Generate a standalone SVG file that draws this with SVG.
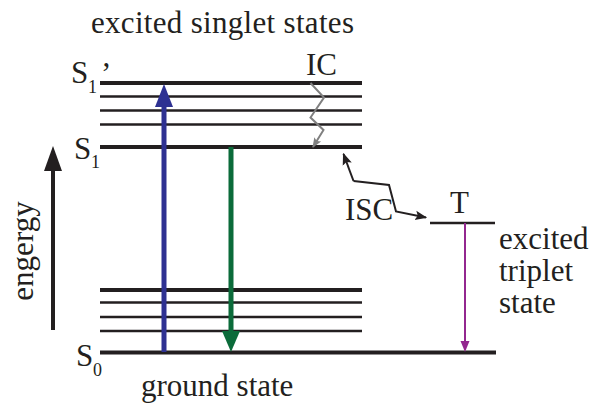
<svg xmlns="http://www.w3.org/2000/svg" width="592" height="406" viewBox="0 0 592 406">
<style>
text{font-family:"Liberation Serif","Times New Roman",serif;fill:#231f20;font-size:31px}
.sub{font-size:18px}
.thick{stroke:#231f20;stroke-width:4;fill:none}
.thin{stroke:#231f20;stroke-width:2.4;fill:none}
</style>
<defs>
<marker id="gh" viewBox="0 0 10 10" refX="9" refY="5" markerWidth="10" markerHeight="10" markerUnits="userSpaceOnUse" orient="auto"><path d="M0,1 L10,5 L0,9 L2,5 Z" fill="#808080"/></marker>
<marker id="bh" viewBox="0 0 10 10" refX="9" refY="5" markerWidth="12" markerHeight="12" markerUnits="userSpaceOnUse" orient="auto"><path d="M0,1 L10,5 L0,9 L2,5 Z" fill="#231f20"/></marker>
</defs>
<g id="title"><text x="91" y="33" textLength="263">excited singlet states</text></g>
<g id="S1p">
<line class="thick" x1="100" y1="83" x2="362" y2="83"/>
<line class="thin" x1="100" y1="96.5" x2="362" y2="96.5"/>
<line class="thin" x1="100" y1="110.5" x2="362" y2="110.5"/>
<line class="thin" x1="100" y1="124.5" x2="362" y2="124.5"/>
<text x="71" y="83">S</text><text class="sub" x="88" y="93">1</text><text x="101" y="84">’</text>
</g>
<g id="S1">
<line class="thick" x1="100" y1="147" x2="362" y2="147"/>
<text x="74" y="159">S</text><text class="sub" x="91" y="168">1</text>
</g>
<g id="S0">
<line class="thick" x1="100" y1="290" x2="362" y2="290"/>
<line class="thin" x1="100" y1="302.5" x2="362" y2="302.5"/>
<line class="thin" x1="100" y1="317" x2="362" y2="317"/>
<line class="thin" x1="100" y1="331" x2="362" y2="331"/>
<line class="thick" x1="100" y1="352.5" x2="496" y2="352.5"/>
<text x="76" y="366">S</text><text class="sub" x="93" y="376">0</text>
</g>
<g id="ground"><text x="141" y="396">ground state</text></g>
<g id="T">
<line class="thin" x1="430" y1="223" x2="495" y2="223"/>
<text x="450" y="213">T</text>
</g>
<g id="triplet">
<text x="499" y="249">excited</text>
<text x="499" y="281">triplet</text>
<text x="499" y="313">state</text>
</g>
<g id="energy">
<text transform="translate(33,251) rotate(-90)" text-anchor="middle">engergy</text>
</g>
<g id="labels">
<text x="306" y="75">IC</text>
<text x="345" y="220">ISC</text>
</g>
<g id="connectors">
<line x1="53" y1="330" x2="53" y2="168" stroke="#231f20" stroke-width="4"/>
<path d="M53,146 L62,171 L44,171 Z" fill="#231f20"/>
<line x1="164" y1="352" x2="164" y2="104" stroke="#2e3192" stroke-width="5"/>
<path d="M164,84 L173,107 L155,107 Z" fill="#2e3192"/>
<line x1="231" y1="147" x2="231" y2="334" stroke="#0b6b3a" stroke-width="5"/>
<path d="M231,352 L240,331 L222,331 Z" fill="#0b6b3a"/>
<line x1="465" y1="223" x2="465" y2="343" stroke="#93278f" stroke-width="2"/>
<path d="M465,352 L469.5,341 L460.5,341 Z" fill="#93278f"/>
<polyline points="310.5,83 324,97.5 310.5,117.5 323.5,130 313,147" fill="none" stroke="#808080" stroke-width="2" marker-end="url(#gh)"/>
<polyline points="353.5,181 389,185 396,211.5 426,217.5" fill="none" stroke="#231f20" stroke-width="2" marker-end="url(#bh)"/>
<polyline points="353.5,181 343.5,154" fill="none" stroke="#231f20" stroke-width="2" marker-end="url(#bh)"/>
</g>
</svg>
